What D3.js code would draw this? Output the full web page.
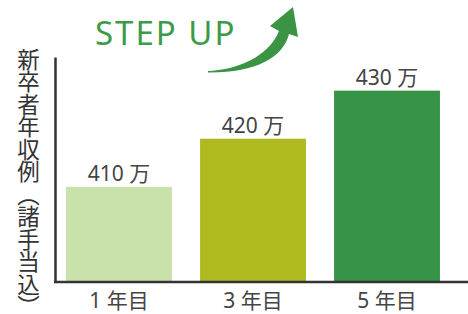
<!DOCTYPE html>
<html>
<head>
<meta charset="utf-8">
<script src="https://cdn.jsdelivr.net/npm/d3@7"></script>
<style>
  body { margin: 0; background: #fff; }
  svg { display: block; }
</style>
</head>
<body>
<div id="chart"></div>
<script>
const categories = ["1 年目", "3 年目", "5 年目"];
const values = [410, 420, 430];
const valueLabels = ["410 万", "420 万", "430 万"];
const barColors = ["#c9e1ab", "#aeba1f", "#369347"];
const yTitle = "新卒者年収例（諸手当込）";
const headline = "STEP UP";

const width = 468;
const height = 314;
const font = "'Noto Sans', 'Noto Sans CJK JP', sans-serif";

const svg = d3.select("#chart")
    .append("svg")
    .attr("width", width)
    .attr("height", height);

const baseY = 282;
const axisX = 55;

const xScale = d3.scaleBand()
    .domain(categories)
    .range([58, 448])
    .paddingInner(0.21)
    .paddingOuter(0.06);

const yScale = d3.scaleLinear()
    .domain([390.2, 437])
    .range([baseY, 57]);

// bars
svg.selectAll("rect.bar").data(values)
    .enter().append("rect")
    .attr("class", "bar")
    .attr("x", (d, i) => xScale(categories[i]))
    .attr("y", d => yScale(d))
    .attr("width", xScale.bandwidth())
    .attr("height", d => baseY - yScale(d))
    .attr("fill", (d, i) => barColors[i]);

// value labels
svg.selectAll("text.val").data(values)
    .enter().append("text")
    .attr("class", "val")
    .attr("x", (d, i) => xScale(categories[i]) + xScale.bandwidth() / 2)
    .attr("y", d => yScale(d) - 6)
    .attr("text-anchor", "middle")
    .attr("font-family", font)
    .attr("font-size", 21)
    .attr("fill", "#444")
    .text((d, i) => valueLabels[i]);

// y axis line
const yAxisG = svg.append("g")
    .attr("transform", `translate(${axisX},0)`)
    .call(d3.axisLeft(yScale).tickValues([]).tickSizeOuter(0));
yAxisG.select(".domain")
    .attr("stroke", "#333")
    .attr("stroke-width", 2.5);

// x axis
const xAxisG = svg.append("g")
    .attr("transform", `translate(0,${baseY})`)
    .call(d3.axisBottom(xScale).tickSize(0).tickPadding(9));
xAxisG.select(".domain").remove();
xAxisG.append("line")
    .attr("x1", axisX - 1)
    .attr("x2", width)
    .attr("stroke", "#333")
    .attr("stroke-width", 2.5);
xAxisG.selectAll(".tick text")
    .attr("font-family", font)
    .attr("font-size", 21)
    .attr("fill", "#444")
    .attr("dy", "0.82em");

// vertical y title
svg.append("text")
    .attr("x", 27)
    .attr("y", 48)
    .attr("font-family", font)
    .attr("font-size", 22.5)
    .attr("fill", "#333")
    .style("writing-mode", "vertical-rl")
    .text(yTitle);

// headline
svg.append("text")
    .attr("x", 95)
    .attr("y", 45)
    .attr("font-family", font)
    .attr("font-size", 33)
    .attr("letter-spacing", 2)
    .attr("fill", "#3b9b48")
    .text(headline);

// curved arrow
svg.append("path")
    .attr("fill", "#3a9443")
    .attr("d", "M208,71 C235,70 268,58 279,31 L270,26 L293,7 L298,37 L289,34 C283,58 255,73 208,72.5 Z");
</script>
</body>
</html>
